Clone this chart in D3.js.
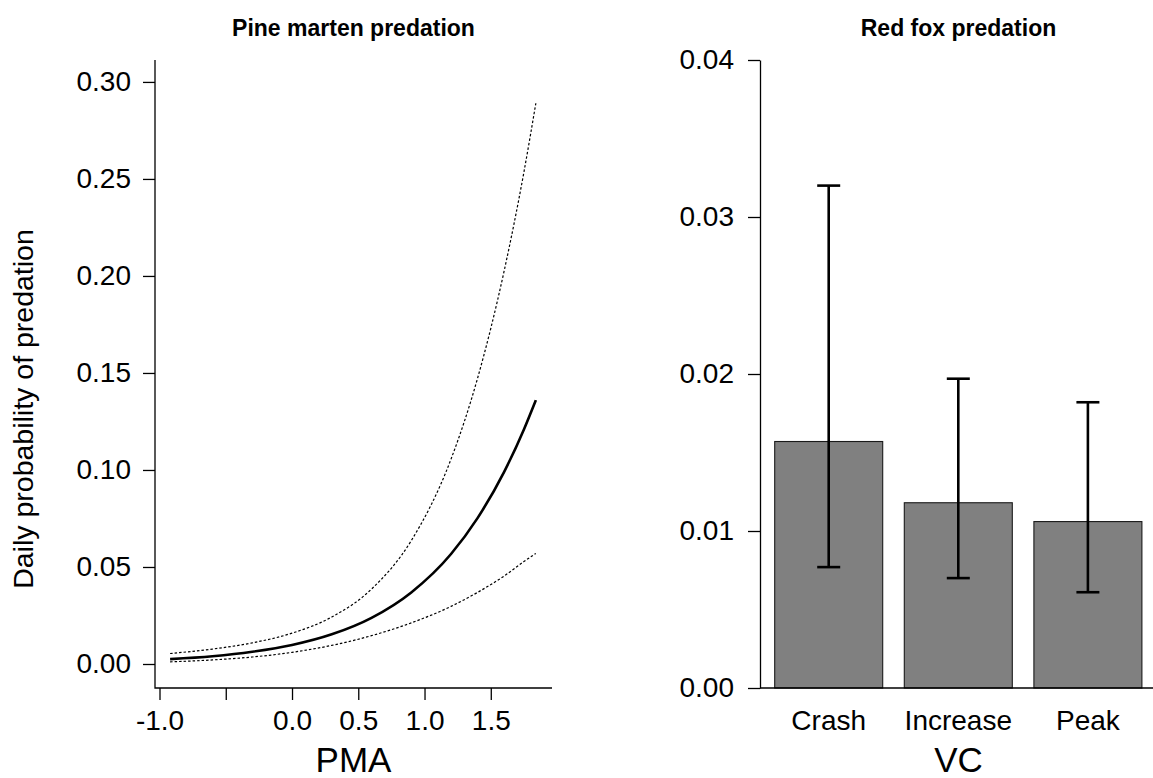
<!DOCTYPE html>
<html>
<head>
<meta charset="utf-8">
<script src="https://cdn.jsdelivr.net/npm/d3@7"></script>
<style>
  html, body { margin: 0; padding: 0; background: #fff; }
  svg { display: block; font-family: "Liberation Sans", Arial, sans-serif; }
  .tick text { fill: #000; }
</style>
</head>
<body>
<svg id="chart" width="1153" height="778"></svg>
<script>
// Pine marten panel: fitted daily predation probability along PMA, with 95% band
const pmaX      = [-0.92, -0.60, -0.30, 0.00, 0.30, 0.60, 0.90, 1.20, 1.40, 1.60, 1.75, 1.84];
const fitMean   = [0.0025, 0.0040, 0.0063, 0.0098, 0.0153, 0.0238, 0.0369, 0.0567, 0.0752, 0.0989, 0.1209, 0.1360];
const fitUpper  = [0.0054, 0.0077, 0.0109, 0.0159, 0.0242, 0.0386, 0.0636, 0.1056, 0.1472, 0.2023, 0.2535, 0.2890];
const fitLower  = [0.0011, 0.0021, 0.0036, 0.0060, 0.0096, 0.0146, 0.0212, 0.0297, 0.0369, 0.0453, 0.0528, 0.0570];

const pmaTicks  = [-1.0, -0.5, 0.0, 0.5, 1.0, 1.5];
const pmaLabels = ["-1.0", "", "0.0", "0.5", "1.0", "1.5"];
const probTicksL = [0, 0.05, 0.10, 0.15, 0.20, 0.25, 0.30];

// Red fox panel: estimate per vole-cycle phase with confidence limits
const vcPhases  = ["Crash", "Increase", "Peak"];
const foxEst    = [0.0157, 0.0118, 0.0106];
const foxLower  = [0.0077, 0.0070, 0.0061];
const foxUpper  = [0.0320, 0.0197, 0.0182];
const probTicksR = [0, 0.01, 0.02, 0.03, 0.04];

const svg = d3.select("#chart");
const TICK_FONT = 28;

// ---------- left panel ----------
const L = { x0: 155, x1: 552, y0: 60, y1: 688 };
const xL = d3.scaleLinear().domain([-1.034, 1.962]).range([L.x0, L.x1]);
const yL = d3.scaleLinear().domain([-0.01237, 0.3113]).range([L.y1, L.y0]);

const gL = svg.append("g");

// L-shaped box
gL.append("path")
  .attr("d", `M${L.x0},${L.y0}V${L.y1}H${L.x1}`)
  .attr("fill", "none").attr("stroke", "#000").attr("stroke-width", 1.3);

const yAxisL = d3.axisLeft(yL).tickValues(probTicksL)
  .tickFormat(d3.format(".2f")).tickSize(12).tickPadding(12);
gL.append("g").attr("transform", `translate(${L.x0},0)`).call(yAxisL)
  .call(g => g.select(".domain").remove())
  .call(g => g.selectAll(".tick line").attr("stroke-width", 1.3))
  .call(g => g.selectAll(".tick text").attr("font-size", TICK_FONT).attr("font-family", null));

const xAxisL = d3.axisBottom(xL).tickValues(pmaTicks)
  .tickFormat((d, i) => pmaLabels[i]).tickSize(12).tickPadding(10);
gL.append("g").attr("transform", `translate(0,${L.y1})`).call(xAxisL)
  .call(g => g.select(".domain").remove())
  .call(g => g.selectAll(".tick line").attr("stroke-width", 1.3))
  .call(g => g.selectAll(".tick text").attr("font-size", TICK_FONT).attr("font-family", null));

const line = (vals) => d3.line()
  .x((d, i) => xL(pmaX[i]))
  .y(d => yL(d))
  .curve(d3.curveMonotoneX)(vals);

gL.append("path").attr("d", line(fitUpper))
  .attr("fill", "none").attr("stroke", "#000").attr("stroke-width", 1.2)
  .attr("stroke-dasharray", "2.5,2");
gL.append("path").attr("d", line(fitLower))
  .attr("fill", "none").attr("stroke", "#000").attr("stroke-width", 1.2)
  .attr("stroke-dasharray", "2.5,2");
gL.append("path").attr("d", line(fitMean))
  .attr("fill", "none").attr("stroke", "#000").attr("stroke-width", 2.6);

gL.append("text").attr("x", (L.x0 + L.x1) / 2).attr("y", 36)
  .attr("text-anchor", "middle").attr("font-weight", "bold").attr("font-size", 23)
  .text("Pine marten predation");
gL.append("text").attr("x", (L.x0 + L.x1) / 2).attr("y", 772)
  .attr("text-anchor", "middle").attr("font-size", 35).text("PMA");
gL.append("text")
  .attr("transform", `translate(33,409) rotate(-90)`)
  .attr("text-anchor", "middle").attr("font-size", 28.5)
  .text("Daily probability of predation");

// ---------- right panel ----------
const R = { x0: 760, x1: 1157, y0: 60, y1: 688 };
const yR = d3.scaleLinear().domain([0, 0.04]).range([R.y1, R.y0]);
const xR = d3.scaleBand().domain(vcPhases)
  .range([774.7, 1141.9]).paddingInner(0.2 / 1.2).paddingOuter(0);

const gR = svg.append("g");

gR.selectAll("rect.bar").data(vcPhases).join("rect")
  .attr("class", "bar")
  .attr("x", d => xR(d))
  .attr("width", xR.bandwidth())
  .attr("y", (d, i) => yR(foxEst[i]))
  .attr("height", (d, i) => yR(0) - yR(foxEst[i]))
  .attr("fill", "#808080").attr("stroke", "#1a1a1a").attr("stroke-width", 1.1);

// baseline at zero
gR.append("line").attr("x1", R.x0).attr("x2", R.x1)
  .attr("y1", yR(0)).attr("y2", yR(0))
  .attr("stroke", "#000").attr("stroke-width", 1.3);

const yAxisR = d3.axisLeft(yR).tickValues(probTicksR)
  .tickFormat(d3.format(".2f")).tickSize(12).tickPadding(14).tickSizeOuter(0);
gR.append("g").attr("transform", `translate(${R.x0},0)`).call(yAxisR)
  .call(g => g.select(".domain").attr("stroke-width", 1.3))
  .call(g => g.selectAll(".tick line").attr("stroke-width", 1.3))
  .call(g => g.selectAll(".tick text").attr("font-size", TICK_FONT).attr("font-family", null));

const xAxisR = d3.axisBottom(xR).tickSize(0).tickPadding(22);
gR.append("g").attr("transform", `translate(0,${R.y1})`).call(xAxisR)
  .call(g => g.select(".domain").remove())
  .call(g => g.selectAll(".tick text").attr("font-size", TICK_FONT).attr("font-family", null));

// confidence intervals
const cap = 11.5;
const eb = gR.selectAll("g.err").data(vcPhases).join("g").attr("class", "err");
eb.append("line")
  .attr("x1", d => xR(d) + xR.bandwidth() / 2).attr("x2", d => xR(d) + xR.bandwidth() / 2)
  .attr("y1", (d, i) => yR(foxLower[i])).attr("y2", (d, i) => yR(foxUpper[i]));
eb.append("line")
  .attr("x1", d => xR(d) + xR.bandwidth() / 2 - cap).attr("x2", d => xR(d) + xR.bandwidth() / 2 + cap)
  .attr("y1", (d, i) => yR(foxUpper[i])).attr("y2", (d, i) => yR(foxUpper[i]));
eb.append("line")
  .attr("x1", d => xR(d) + xR.bandwidth() / 2 - cap).attr("x2", d => xR(d) + xR.bandwidth() / 2 + cap)
  .attr("y1", (d, i) => yR(foxLower[i])).attr("y2", (d, i) => yR(foxLower[i]));
eb.selectAll("line").attr("stroke", "#000").attr("stroke-width", 2.6);

gR.append("text").attr("x", (R.x0 + R.x1) / 2).attr("y", 36)
  .attr("text-anchor", "middle").attr("font-weight", "bold").attr("font-size", 23)
  .text("Red fox predation");
gR.append("text").attr("x", (R.x0 + R.x1) / 2).attr("y", 772)
  .attr("text-anchor", "middle").attr("font-size", 35).text("VC");
</script>
</body>
</html>
